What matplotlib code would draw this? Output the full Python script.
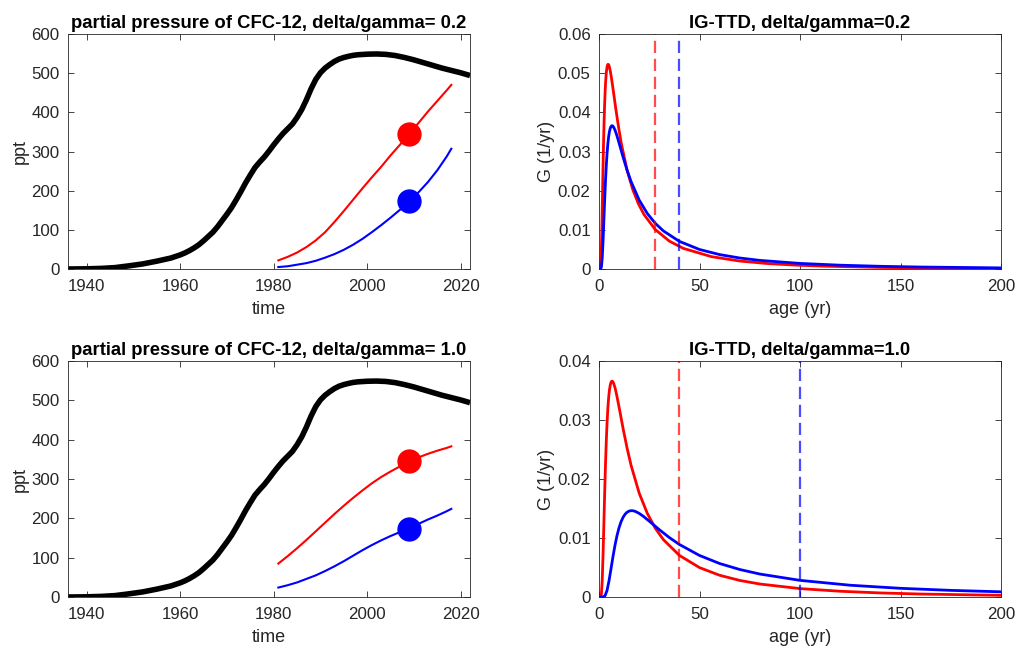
import matplotlib
matplotlib.use("Agg")
import matplotlib.pyplot as plt

plt.rcParams['font.family'] = ['Liberation Sans', 'DejaVu Sans']

# ---------------- data ----------------
# atmospheric CFC-12 history (ppt)
atm_years = [1936, 1940, 1943, 1946, 1949, 1952, 1955, 1958, 1960, 1961, 1962,
             1963, 1964, 1965, 1966, 1967, 1968, 1969, 1970, 1971, 1972, 1973,
             1974, 1975, 1976, 1977, 1978, 1979, 1980, 1981, 1982, 1983, 1984,
             1985, 1986, 1987, 1988, 1989, 1990, 1991, 1992, 1993, 1994, 1995,
             1996, 1997, 1998, 2000, 2002, 2004, 2006, 2008, 2010, 2012, 2014,
             2016, 2018, 2020, 2022]
atm_cfc12 = [0, 0.5, 1.5, 3.5, 8, 13, 20, 28, 36, 41, 47,
             54, 62, 72, 83, 94, 108, 124, 140, 157, 177, 198,
             220, 240, 259, 273, 286, 301, 317, 332, 346, 358, 370,
             387, 407, 432, 460, 484, 501, 513, 522, 530, 536, 540,
             543, 545.5, 547, 548.5, 549, 548, 545, 540, 534, 527, 520,
             513, 507, 501, 494]

# ocean interior pCFC-12 (ppt)
ocn_years = [1981, 1983, 1985, 1987, 1989, 1991, 1993, 1995, 1997, 1999,
             2001, 2003, 2005, 2007, 2009, 2011, 2013, 2015, 2017, 2018]
# delta/gamma = 0.2
top_red_ppt = [22, 31, 42, 56, 73, 94, 120, 148, 177, 206,
               234, 261, 290, 317, 345, 373, 402, 429, 456, 470]
top_blue_ppt = [5, 7, 11, 15, 21, 29, 38, 49, 62, 77,
                94, 112, 131, 151, 173, 196, 222, 252, 287, 307]
# delta/gamma = 1.0
bot_red_ppt = [85, 104, 124, 145, 167, 189, 211, 232, 252, 271,
               289, 305, 319, 332, 344, 355, 364, 372, 379, 383]
bot_blue_ppt = [24, 30, 37, 46, 55, 66, 78, 91, 105, 119,
                132, 144, 155, 165, 175, 186, 197, 207, 218, 224]

obs_year = 2009
obs_red = 345
obs_blue = 173

# IG-TTD curves, G (1/yr)
age_g28 = [0, 0.28, 0.56, 0.84, 1.12, 1.4, 1.68, 1.96, 2.24, 2.52, 2.8, 3.08,
           3.36, 3.64, 3.92, 4.2, 4.48, 4.76, 5.04, 5.6, 6.16, 7, 8.4, 9.8,
           11.2, 14, 16.8, 19.6, 22.4, 28, 35, 42, 56, 70, 84, 98, 112, 140,
           168, 201.6]
g_28 = [0, 0, 0.0000218, 0.000762, 0.003968, 0.009893, 0.01726, 0.02479,
        0.03161, 0.03740, 0.04205, 0.04564, 0.04829, 0.05014, 0.05134,
        0.05202, 0.05227, 0.05219, 0.05185, 0.05061, 0.04890, 0.04592,
        0.04076, 0.03598, 0.03180, 0.02515, 0.02028, 0.01666, 0.01390,
        0.010075, 0.007118, 0.005261, 0.003144, 0.002035, 0.001389,
        0.000985, 0.000718, 0.000405, 0.000242, 0.000137]

age_g40 = [0, 0.4, 0.8, 1.2, 1.6, 2.0, 2.4, 2.8, 3.2, 3.6, 4.0, 4.4, 4.8, 5.2,
           5.6, 6.0, 6.4, 6.8, 7.2, 8, 8.8, 10, 12, 14, 16, 20, 24, 28, 32,
           40, 50, 60, 70, 80, 100, 120, 140, 160, 200]
g_40 = [0, 0, 0.0000153, 0.000534, 0.002778, 0.006925, 0.01208, 0.01735,
        0.02213, 0.02618, 0.02944, 0.03195, 0.03380, 0.03510, 0.03594,
        0.03641, 0.03659, 0.03653, 0.03630, 0.03543, 0.03423, 0.03215,
        0.02853, 0.02519, 0.02226, 0.01760, 0.01420, 0.01166, 0.009733,
        0.007052, 0.004983, 0.003683, 0.002811, 0.002201, 0.001425,
        0.000973, 0.000689, 0.000502, 0.000283]

age_g100 = [0, 1, 2, 3, 4, 5, 6, 7, 8, 9, 10, 11, 12, 13, 14, 15, 16, 17, 18,
            20, 22, 25, 30, 35, 40, 50, 60, 70, 80, 100, 125, 150, 175, 200]
g_100 = [0, 0, 0.0000061, 0.000213, 0.001111, 0.002770, 0.004833, 0.006940,
         0.008851, 0.010472, 0.011774, 0.012778, 0.013520, 0.014039,
         0.014376, 0.014565, 0.014635, 0.014613, 0.014518, 0.014171,
         0.013692, 0.012858, 0.011413, 0.010075, 0.008904, 0.007041,
         0.005678, 0.004664, 0.003893, 0.002821, 0.001993, 0.001473,
         0.001124, 0.000880]

mean_age_top = [28, 40]
mean_age_bot = [40, 100]

titles = ["partial pressure of CFC-12, delta/gamma= 0.2",
          "IG-TTD, delta/gamma=0.2",
          "partial pressure of CFC-12, delta/gamma= 1.0",
          "IG-TTD, delta/gamma=1.0"]

time_ticks = [1940, 1960, 1980, 2000, 2020]
ppt_ticks = [0, 100, 200, 300, 400, 500, 600]
age_ticks = [0, 50, 100, 150, 200]
g_ticks_top = [0, 0.01, 0.02, 0.03, 0.04, 0.05, 0.06]
g_ticklabels_top = ["0", "0.01", "0.02", "0.03", "0.04", "0.05", "0.06"]
g_ticks_bot = [0, 0.01, 0.02, 0.03, 0.04]
g_ticklabels_bot = ["0", "0.01", "0.02", "0.03", "0.04"]

# ---------------- styling ----------------
AX_COL = '#262626'
TICK_FS = 12.2
LABEL_FS = 13
TITLE_FS = 13.3

fig = plt.figure(figsize=(10.18, 6.48), dpi=100)
W, H = 1018.0, 648.0


def make_ax(x0, y0, x1, y1):
    return fig.add_axes([x0 / W, (H - y1) / H, (x1 - x0) / W, (y1 - y0) / H])


def style(ax):
    for s in ax.spines.values():
        s.set_color(AX_COL)
        s.set_linewidth(0.6)
    ax.tick_params(direction='in', top=True, right=True, length=4, width=0.6,
                   color=AX_COL, labelcolor=AX_COL, labelsize=TICK_FS)
    ax.tick_params(axis='x', pad=7)
    ax.tick_params(axis='y', pad=6)


ax_tl = make_ax(68, 34, 470, 269)
ax_tr = make_ax(599, 34, 1001, 269)
ax_bl = make_ax(68, 361, 470, 597)
ax_br = make_ax(599, 361, 1001, 597)

# left panels
for ax, red, blue, title in [(ax_tl, top_red_ppt, top_blue_ppt, titles[0]),
                             (ax_bl, bot_red_ppt, bot_blue_ppt, titles[2])]:
    ax.plot(atm_years, atm_cfc12, color='black', lw=4.0,
            solid_joinstyle='round', solid_capstyle='butt')
    ax.plot(ocn_years, red, color='red', lw=1.5, solid_joinstyle='round')
    ax.plot(ocn_years, blue, color='blue', lw=1.5, solid_joinstyle='round')
    ax.plot([obs_year], [obs_red], 'o', color='red', ms=16.5, mec='red')
    ax.plot([obs_year], [obs_blue], 'o', color='blue', ms=16.5, mec='blue')
    ax.set_xlim(1936, 2022)
    ax.set_ylim(0, 600)
    ax.set_xticks(time_ticks)
    ax.set_xticklabels([str(t) for t in time_ticks])
    ax.set_yticks(ppt_ticks)
    ax.set_yticklabels([str(t) for t in ppt_ticks])
    ax.set_xlabel('time', fontsize=LABEL_FS, color=AX_COL, labelpad=5)
    ax.set_ylabel('ppt', fontsize=LABEL_FS, color=AX_COL, labelpad=2)
    ax.set_title(title, fontsize=TITLE_FS, fontweight='bold', pad=4)
    style(ax)

# right panels
panels = [(ax_tr, age_g28, g_28, age_g40, g_40, mean_age_top, g_ticks_top,
           g_ticklabels_top, 0.06, titles[1]),
          (ax_br, age_g40, g_40, age_g100, g_100, mean_age_bot, g_ticks_bot,
           g_ticklabels_bot, 0.04, titles[3])]
for (ax, ar, gr, ab, gb, means, yt, ytl, ymax, title) in panels:
    ax.plot(ar, gr, color='red', lw=2.0)
    ax.plot(ab, gb, color='blue', lw=2.0)
    ax.plot([means[0], means[0]], [0, ymax], color='red', alpha=0.7, lw=1.6,
            dashes=(5.5, 2.6))
    ax.plot([means[1], means[1]], [0, ymax], color='blue', alpha=0.7, lw=1.6,
            dashes=(5.5, 2.6))
    ax.set_xlim(0, 200)
    ax.set_ylim(0, ymax)
    ax.set_xticks(age_ticks)
    ax.set_xticklabels([str(t) for t in age_ticks])
    ax.set_yticks(yt)
    ax.set_yticklabels(ytl)
    ax.set_xlabel('age (yr)', fontsize=LABEL_FS, color=AX_COL, labelpad=5)
    ax.set_ylabel('G (1/yr)', fontsize=LABEL_FS, color=AX_COL, labelpad=2)
    ax.set_title(title, fontsize=TITLE_FS, fontweight='bold', pad=4)
    style(ax)

fig.savefig('out.png', dpi=100)
